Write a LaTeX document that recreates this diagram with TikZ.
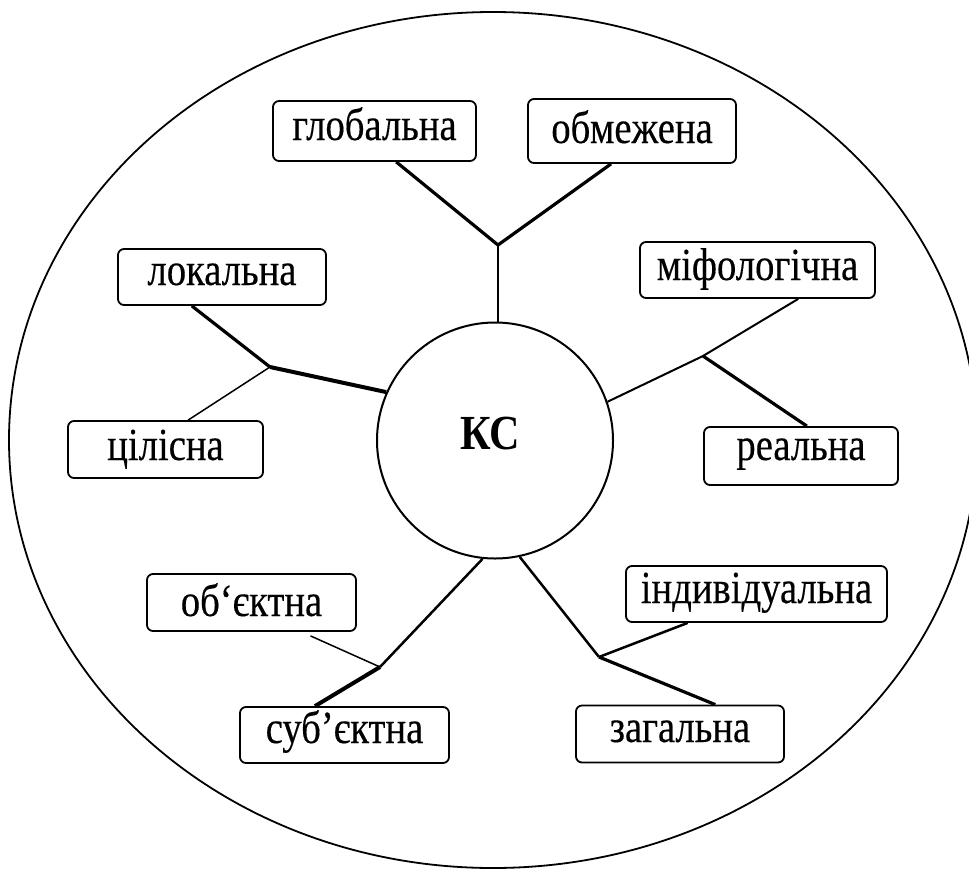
\documentclass[tikz,border=0pt]{standalone}
\usepackage{fontspec}
\setmainfont[FakeStretch=0.86]{Liberation Serif}
\newfontfamily\boxfont[FakeStretch=0.84,FakeBold=0.3]{Liberation Serif}
\usetikzlibrary{calc}
\begin{document}
\begin{tikzpicture}[x=1pt,y=-1pt,
  box/.style={draw, line width=1.8pt, rounded corners=6pt, inner sep=0pt,
    text depth=0pt, align=center, font=\boxfont\fontsize{46}{50}\selectfont},
  lA/.style={line width=1.5pt},
  lB/.style={line width=2pt},
  lC/.style={line width=2.5pt},
  lD/.style={line width=3.2pt},
  lE/.style={line width=4pt}]
\useasboundingbox (0,0) rectangle (969,870);
\clip (0,0) rectangle (969,870);
\fill[white] (0,0) rectangle (969,870);
% outer ellipse
\draw[line width=1.8pt] (493,440) ellipse [x radius=484, y radius=428];
% centre
\node[circle, draw, line width=2pt, minimum size=236pt, inner sep=0pt] (kc) at (495,440.5) {};
\node[font=\fontsize{49}{53}\selectfont\bfseries, inner sep=0pt] (kclabel) at (490,434) {КС};
% boxes
\node[box, minimum width=203pt, minimum height=60pt, text height=18pt] (glob) at (374.5,131) {глобальна};
\node[box, minimum width=208pt, minimum height=64pt, text height=24pt] (obm) at (632,131) {обмежена};
\node[box, minimum width=208pt, minimum height=56pt, text height=16pt] (lok) at (222,277) {локальна};
\node[box, minimum width=195pt, minimum height=57pt, text height=21pt] (cil) at (165.5,449.5) {цілісна};
\node[box, minimum width=235pt, minimum height=56pt, text height=20pt] (mif) at (757.5,270) {міфологічна};
\node[box, minimum width=194pt, minimum height=58pt, text height=8pt] (real) at (801,456) {реальна};
\node[box, minimum width=209pt, minimum height=57pt, text height=27pt] (obj) at (251.5,602.5) {об‘єктна};
\node[box, minimum width=209pt, minimum height=56pt, text height=16pt] (sub) at (344.5,735) {суб’єктна};
\node[box, minimum width=208pt, minimum height=57pt, text height=16pt] (zag) at (680,734) {загальна};
\node[box, minimum width=261pt, minimum height=56pt, text height=18pt] (ind) at (756.5,594) {індивідуальна};
% junctions
\coordinate (jt) at (498,245);
\coordinate (jl) at (270,367);
\coordinate (jr) at (703,356);
\coordinate (jbl) at (380,667);
\coordinate (jbr) at (599,657);
% top
\draw[lB] (jt) -- (jt |- kc.north);
\draw[lD] ($(glob.south west)!0.606!(glob.south east)$) -- (jt);
\draw[lD] ($(obm.south west)!0.40!(obm.south east)$) -- (jt);
% left
\draw[lD] ($(lok.south west)!0.356!(lok.south east)$) -- (jl);
\draw[lA] ($(cil.north west)!0.615!(cil.north east)$) -- (jl);
\draw[lE] (jl) -- (kc.156);
% right
\draw[lB] ($(mif.south west)!0.672!(mif.south east)$) -- (jr);
\draw[lD] (jr) -- ($(real.north west)!0.53!(real.north east)$);
\draw[lB] (jr) -- (kc.19);
% bottom left
\draw[lC] (kc.264.6) -- (jbl);
\draw[lA] ($(obj.south west)!0.78!(obj.south east)+(0,4)$) -- (jbl);
\draw[lE] (jbl) -- ($(sub.north west)!0.36!(sub.north east)$);
% bottom right
\draw[lC] (kc.282.6) -- (jbr);
\draw[lC] ($(ind.south west)!0.238!(ind.south east)$) -- (jbr);
\draw[lD] (jbr) -- ($(zag.north west)!0.668!(zag.north east)$);
\end{tikzpicture}
\end{document}
